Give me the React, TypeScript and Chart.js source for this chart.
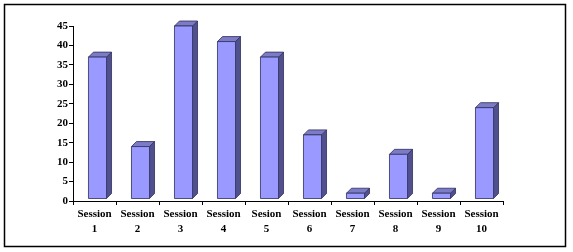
import React, { useEffect, useRef } from "react";
import { Chart, registerables } from "chart.js";

Chart.register(...registerables);

const categories: string[][] = [
  ["Session", "1"],
  ["Session", "2"],
  ["Session", "3"],
  ["Session", "4"],
  ["Sesion", "5"],
  ["Session", "6"],
  ["Session", "7"],
  ["Session", "8"],
  ["Session", "9"],
  ["Session", "10"],
];
const values: number[] = [37, 14, 45, 41, 37, 17, 2, 12, 2, 24];
const yMin = 0;
const yMax = 45;
const yStep = 5;

const FRONT = "#9999FF";
const TOP = "#7B7BC6";
const SIDE = "#50508E";
const EDGE = "#2E2E5C";
const DEPTH = 5;
const SHIFT_X = 3;
const BASE_LIFT = 2;

const bars3d = {
  id: "bars3d",
  afterDatasetsDraw(chart: any) {
    const ctx = chart.ctx;
    const meta = chart.getDatasetMeta(0);
    ctx.save();
    ctx.lineWidth = 0.8;
    ctx.strokeStyle = EDGE;
    ctx.lineJoin = "miter";
    meta.data.forEach((bar: any) => {
      const p = bar.getProps(["x", "y", "base", "width"], true);
      const l = p.x - p.width / 2 + SHIFT_X;
      const r = p.x + p.width / 2 + SHIFT_X;
      const b = p.base - BASE_LIFT;
      const t = Math.min(p.y, b - 1);
      // side
      ctx.beginPath();
      ctx.moveTo(r, b);
      ctx.lineTo(r + DEPTH, b - DEPTH);
      ctx.lineTo(r + DEPTH, t - DEPTH);
      ctx.lineTo(r, t);
      ctx.closePath();
      ctx.fillStyle = SIDE;
      ctx.fill();
      ctx.stroke();
      // top
      ctx.beginPath();
      ctx.moveTo(l, t);
      ctx.lineTo(l + DEPTH, t - DEPTH);
      ctx.lineTo(r + DEPTH, t - DEPTH);
      ctx.lineTo(r, t);
      ctx.closePath();
      ctx.fillStyle = TOP;
      ctx.fill();
      ctx.stroke();
      // front
      ctx.beginPath();
      ctx.rect(l, t, r - l, b - t);
      ctx.fillStyle = FRONT;
      ctx.fill();
      ctx.stroke();
    });
    ctx.restore();
  },
};

const frame = {
  id: "frame",
  afterDraw(chart: any) {
    const ctx = chart.ctx;
    ctx.save();
    ctx.strokeStyle = "#000";
    ctx.lineWidth = 1.5;
    ctx.strokeRect(4.5, 4.5, 561, 242);
    ctx.restore();
  },
};

const tickFont = { family: "'Liberation Serif', 'Times New Roman', serif", weight: "bold" as const, size: 11, lineHeight: 1.35 };

export default function App() {
  const ref = useRef<HTMLCanvasElement | null>(null);
  useEffect(() => {
    document.body.style.margin = "0";
    if (!ref.current) return;
    const chart = new Chart(ref.current, {
      type: "bar",
      data: {
        labels: categories,
        datasets: [
          {
            data: values,
            backgroundColor: "rgba(0,0,0,0)",
            borderWidth: 0,
            barPercentage: 0.42,
            categoryPercentage: 1,
          },
        ],
      },
      options: {
        responsive: false,
        animation: false,
        devicePixelRatio: 1,
        layout: { padding: { top: 26, right: 70, left: 0, bottom: 0 } },
        plugins: { legend: { display: false }, tooltip: { enabled: false } },
        scales: {
          x: {
            grid: { drawOnChartArea: false, drawTicks: true, tickLength: 4, color: "#000", offset: true },
            border: { display: true, color: "#000", width: 1 },
            ticks: { font: tickFont, color: "#000", padding: 2, maxRotation: 0, autoSkip: false },
            afterFit: (s: any) => {
              s.height = 51;
            },
          },
          y: {
            min: yMin,
            max: yMax,
            grid: { drawOnChartArea: false, drawTicks: true, tickLength: 4, color: "#000" },
            border: { display: true, color: "#000", width: 1 },
            ticks: { stepSize: yStep, font: { ...tickFont, lineHeight: 1.2 }, color: "#000", padding: 1 },
            afterFit: (s: any) => {
              s.width = 73;
            },
          },
        },
      },
      plugins: [bars3d, frame],
    });
    return () => chart.destroy();
  }, []);
  return <canvas ref={ref} width={573} height={252} style={{ display: "block" }} />;
}
